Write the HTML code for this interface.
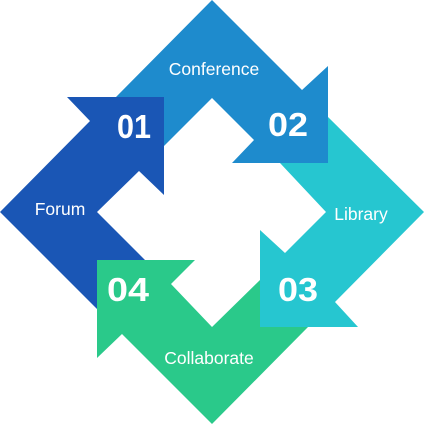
<!DOCTYPE html>
<html><head><meta charset="utf-8"><style>
html,body{margin:0;padding:0;background:#fff;width:424px;height:425px;overflow:hidden}
svg{display:block}
text{font-family:"Liberation Sans",sans-serif;fill:#fff}
.l{font-size:17.5px}
.n{font-size:33px;font-weight:bold}
</style></head><body>
<svg width="424" height="425" viewBox="0 0 424 425">
<polygon fill="#1E8BCD" points="212,0 302,90 328,66 328,163 232,163 254,140 212,98 164,146 164,97 116,97"/>
<polygon fill="#26C6D0" points="328,117 424,212 335,302 358,327 260,327 260,230 285,253 326,212 280,163 328,163"/>
<polygon fill="#2AC98A" points="97,260 195,260 171,284 212,327 260,280 260,327 308,327 212,424 122,334 97,358"/>
<polygon fill="#1A56B5" points="67,97 164,97 164,195 139,171 97,212 145,260 97,260 97,309 0,212 90,121"/>
<text class="l" x="214" y="75" text-anchor="middle">Conference</text>
<text class="l" x="60" y="215" text-anchor="middle">Forum</text>
<text class="l" x="361" y="220" text-anchor="middle">Library</text>
<text class="l" x="209" y="364" text-anchor="middle">Collaborate</text>
<text class="n" x="134" y="138" text-anchor="middle" textLength="34" lengthAdjust="spacingAndGlyphs">01</text>
<text class="n" x="288" y="136" text-anchor="middle" textLength="40" lengthAdjust="spacingAndGlyphs">02</text>
<text class="n" x="298" y="301" text-anchor="middle" textLength="40" lengthAdjust="spacingAndGlyphs">03</text>
<text class="n" x="128" y="301" text-anchor="middle" textLength="42" lengthAdjust="spacingAndGlyphs">04</text>
</svg>
</body></html>
